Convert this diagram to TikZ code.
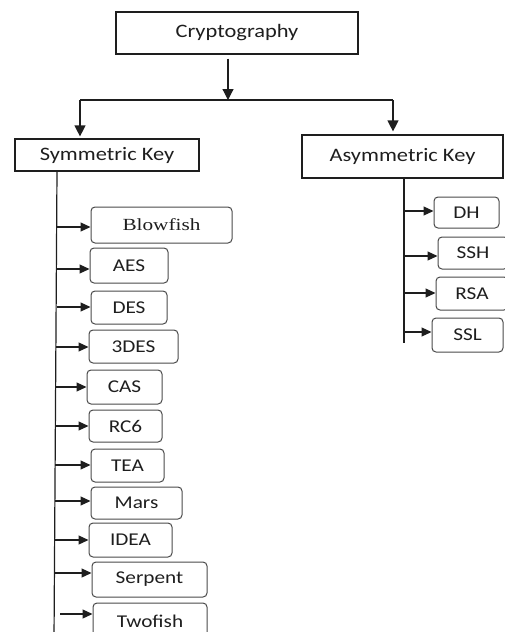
\documentclass[tikz,border=0pt]{standalone}
\usepackage{fontspec}
\setmainfont{Carlito}[FakeStretch=1.18]
\newfontfamily\serifbf{Liberation Serif}[FakeStretch=1.25]
\usetikzlibrary{arrows.meta}
\definecolor{ink}{HTML}{1E1E1E}
\definecolor{rim}{HTML}{4A4A4A}
\begin{document}
\begin{tikzpicture}[x=1pt,y=-1pt,
  mainbox/.style={draw=ink,line width=1.2pt,inner sep=0pt,text=ink,font=\fontsize{19}{22}\selectfont},
  leaf/.style={draw=rim,line width=1pt,rounded corners=4pt,inner sep=0pt,text=ink,font=\fontsize{18}{21}\selectfont},
  link/.style={draw=ink,line width=1.2pt},
  bigarr/.style={link,-{Triangle[length=11pt,width=11pt]}},
  arr/.style={link,-{Triangle[length=10pt,width=9pt]}}]
\useasboundingbox (0,0) rectangle (505,632);
\clip (0,0) rectangle (505,632);
% main boxes
\node[mainbox,minimum width=242pt,minimum height=42pt] (crypto) at (237,33) {Cryptography};
\node[mainbox,minimum width=184pt,minimum height=32pt] (sym) at (107,155) {Symmetric Key};
\node[mainbox,minimum width=201pt,minimum height=43pt] (asym) at (402.5,156.5) {Asymmetric Key};
% top connectors
\coordinate (J) at (228,100);
\coordinate (L) at (80,100);
\coordinate (R) at (393,100);
\draw[bigarr] ([yshift=-4pt]crypto.south -| J) -- (J);
\draw[link] (L) -- (R);
\draw[bigarr] (L) -- ([yshift=2pt]L |- sym.north);
\draw[bigarr] (R) -- ([yshift=3pt]R |- asym.north);
% symmetric leaves
\node[leaf,minimum width=141pt,minimum height=36pt] (blowfish) at (161.5,225) {\serifbf\fontsize{17}{20}\selectfont Blowfish};
\node[leaf,minimum width=78pt,minimum height=35pt] (aes) at (129,265.5) {AES};
\node[leaf,minimum width=76pt,minimum height=33pt] (des) at (129,307.5) {DES};
\node[leaf,minimum width=89pt,minimum height=33pt] (tdes) at (133.5,346.5) {3DES};
\node[leaf,minimum width=75pt,minimum height=34pt] (cas) at (124.5,387) {CAS};
\node[leaf,minimum width=73pt,minimum height=32pt] (rc6) at (125.5,426) {RC6};
\node[leaf,minimum width=73pt,minimum height=33pt] (tea) at (127.5,465.5) {TEA};
\node[leaf,minimum width=91pt,minimum height=32pt] (mars) at (136.5,503) {Mars};
\node[leaf,minimum width=83pt,minimum height=34pt] (idea) at (130.5,540) {IDEA};
\node[leaf,minimum width=115pt,minimum height=35pt] (serpent) at (149.5,579.5) {Serpent};
\node[leaf,minimum width=114pt,minimum height=37pt] (twofish) at (150,621.5) {Twofish};
% symmetric spine
\coordinate (st) at (57,171);
\coordinate (sb) at (54,640);
\draw[link] (st) -- (sb);
\foreach \n/\y/\x in {blowfish/227/57,aes/269/57,des/307/57,tdes/347/56,cas/387/56,rc6/426/56,tea/465/55,mars/501/55,idea/540/55,serpent/573/55,twofish/614/60}{
  \coordinate (s-\n) at (\x,\y);
  \draw[arr] (s-\n) -- (s-\n -| \n.west);
}
% asymmetric leaves
\node[leaf,minimum width=65pt,minimum height=31pt] (dh) at (466.5,212.5) {DH};
\node[leaf,minimum width=70pt,minimum height=32pt] (ssh) at (473,253) {SSH};
\node[leaf,minimum width=72pt,minimum height=33pt] (rsa) at (472,293.5) {RSA};
\node[leaf,minimum width=71pt,minimum height=34pt] (ssl) at (467.5,335) {SSL};
\coordinate (at) at (404,179);
\coordinate (ab) at (404,343);
\draw[link] (asym.south -| at) -- (ab);
\foreach \n/\y in {dh/211,ssh/256,rsa/293,ssl/332}{
  \coordinate (a-\n) at (404,\y);
  \draw[arr] (a-\n) -- (a-\n -| \n.west);
}
\end{tikzpicture}
\end{document}
